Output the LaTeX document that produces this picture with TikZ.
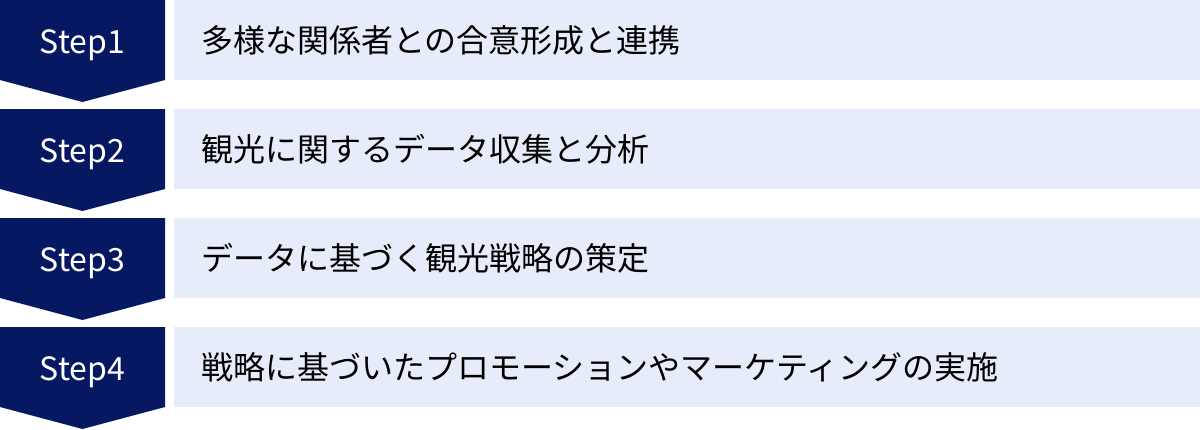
\documentclass[tikz,border=0pt]{standalone}
\usepackage{fontspec}
\setmainfont{Noto Sans CJK JP}
\usepackage{tikz}
\definecolor{navy}{HTML}{061862}
\definecolor{paleblue}{HTML}{E6ECF9}

\begin{document}
\begin{tikzpicture}[x=0.75pt,y=-0.75pt,
	stepbox/.style={fill=navy},
	steplabel/.style={anchor=base,inner sep=0,text=white,font=\fontsize{24}{28}\selectfont},
	bar/.style={fill=paleblue},
	bartext/.style={anchor=base west,inner sep=0,text=black,font=\fontsize{24}{28}\selectfont}]
		\useasboundingbox (0,0) rectangle (1200,429);
		% Step1
		\fill[stepbox] (0,0) -- (165,0) -- (165,80) -- (82.5,102) -- (0,80) -- cycle;
		\node[steplabel] (step1) at (82.5,53) {Step1};
		\fill[bar] (174,0) rectangle (1200,80);
		\node[bartext] (task1) at (201,52) {多様な関係者との合意形成と連携};
		% Step2
		\fill[stepbox] (0,109) -- (165,109) -- (165,189) -- (82.5,211) -- (0,189) -- cycle;
		\node[steplabel] (step2) at (82.5,162) {Step2};
		\fill[bar] (174,109) rectangle (1200,189);
		\node[bartext] (task2) at (201,161) {観光に関するデータ収集と分析};
		% Step3
		\fill[stepbox] (0,218) -- (165,218) -- (165,298) -- (82.5,320) -- (0,298) -- cycle;
		\node[steplabel] (step3) at (82.5,271) {Step3};
		\fill[bar] (174,218) rectangle (1200,298);
		\node[bartext] (task3) at (201,270) {データに基づく観光戦略の策定};
		% Step4
		\fill[stepbox] (0,327) -- (165,327) -- (165,407) -- (82.5,429) -- (0,407) -- cycle;
		\node[steplabel] (step4) at (82.5,380) {Step4};
		\fill[bar] (174,327) rectangle (1200,407);
		\node[bartext] (task4) at (201,379) {戦略に基づいたプロモーションやマーケティングの実施};
	\end{tikzpicture}
\end{document}
